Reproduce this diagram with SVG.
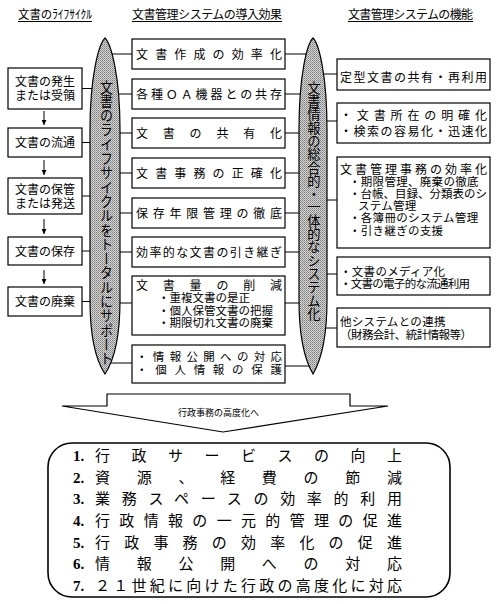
<svg xmlns="http://www.w3.org/2000/svg" width="497" height="604" viewBox="0 0 497 604">
<defs>
<pattern id="dots" width="2" height="2" patternUnits="userSpaceOnUse">
<rect width="2" height="2" fill="#d6d6d6"/>
<rect width="1" height="1" fill="#7a7a7a"/>
<rect x="1" y="1" width="1" height="1" fill="#9a9a9a"/>
</pattern>
<marker id="ah" viewBox="0 0 10 10" refX="10" refY="5" markerWidth="5" markerHeight="5" orient="auto" markerUnits="userSpaceOnUse">
<path d="M0,0 L10,5 L0,10 Z" fill="#000"/>
</marker>
</defs>
<style>
text{font-family:"Liberation Sans","Noto Sans CJK JP",sans-serif;fill:#000;}
.h{font-size:12px;}
.t{font-size:12px;}
.s{font-size:11.5px;}
.c{text-anchor:middle;}
.box{fill:#fff;stroke:#000;stroke-width:1.2;}
.ln{stroke:#000;stroke-width:1;fill:none;}
.ell{fill:url(#dots);stroke:#000;stroke-width:1.2;}
.v{writing-mode:vertical-rl;text-orientation:upright;}
.b{font-size:15px;}
.n{font-family:"Liberation Serif","Noto Sans CJK JP",serif;font-size:15px;font-weight:bold;}
</style>

<g id="headers">
<text class="h" x="18" y="18.5" textLength="74" lengthAdjust="spacingAndGlyphs">文書のﾗｲﾌｻｲｸﾙ</text>
<line class="ln" x1="18" y1="21.5" x2="92" y2="21.5"/>
<text class="h" x="132" y="18.5" textLength="150">文書管理システムの導入効果</text>
<line class="ln" x1="132" y1="21.5" x2="282" y2="21.5"/>
<text class="h" x="348" y="18.5" textLength="125">文書管理システムの機能</text>
<line class="ln" x1="348" y1="21.5" x2="473" y2="21.5"/>
</g>

<g id="connectors">
<line class="ln" x1="82" y1="88.5" x2="105" y2="88.5"/>
<line class="ln" x1="82" y1="142.5" x2="105" y2="142.5"/>
<line class="ln" x1="82" y1="196" x2="105" y2="196"/>
<line class="ln" x1="82" y1="251" x2="105" y2="251"/>
<line class="ln" x1="82" y1="301.5" x2="105" y2="301.5"/>
<line class="ln" x1="44" y1="111" x2="44" y2="125" marker-end="url(#ah)"/>
<line class="ln" x1="44" y1="160" x2="44" y2="175" marker-end="url(#ah)"/>
<line class="ln" x1="44" y1="219" x2="44" y2="234" marker-end="url(#ah)"/>
<line class="ln" x1="44" y1="270" x2="44" y2="284" marker-end="url(#ah)"/>
<line class="ln" x1="105" y1="54" x2="132" y2="54"/>
<line class="ln" x1="105" y1="94" x2="132" y2="94"/>
<line class="ln" x1="105" y1="133" x2="132" y2="133"/>
<line class="ln" x1="105" y1="173" x2="132" y2="173"/>
<line class="ln" x1="105" y1="213" x2="132" y2="213"/>
<line class="ln" x1="105" y1="252" x2="132" y2="252"/>
<line class="ln" x1="105" y1="303" x2="132" y2="303"/>
<line class="ln" x1="105" y1="363" x2="132" y2="363"/>
<line class="ln" x1="285" y1="54" x2="313" y2="54"/>
<line class="ln" x1="285" y1="94" x2="313" y2="94"/>
<line class="ln" x1="285" y1="133" x2="313" y2="133"/>
<line class="ln" x1="285" y1="173" x2="313" y2="173"/>
<line class="ln" x1="285" y1="213" x2="313" y2="213"/>
<line class="ln" x1="285" y1="252" x2="313" y2="252"/>
<line class="ln" x1="285" y1="303" x2="313" y2="303"/>
<line class="ln" x1="285" y1="366" x2="313" y2="366"/>
<line class="ln" x1="313" y1="74" x2="337" y2="74"/>
<line class="ln" x1="313" y1="121" x2="337" y2="121"/>
<line class="ln" x1="313" y1="200" x2="337" y2="200"/>
<line class="ln" x1="313" y1="274" x2="337" y2="274"/>
<line class="ln" x1="313" y1="328" x2="337" y2="328"/>
</g>

<g id="ellipse-left">
<path class="ell" d="M105,38 C111,44 120,75 120,130 L120,300 C120,340 113,362 105,374 C97,362 90,340 90,300 L90,130 C90,75 99,44 105,38 Z"/>
<text class="v" x="105" y="80" font-size="13" transform="translate(0 -8) scale(1 1.1)">文書のライフサイクルをトータルにサポート</text>
</g>
<g id="ellipse-right">
<path class="ell" d="M313,38 C319,44 327,75 327,130 L327,300 C327,340 320,362 313,374 C306,362 299,340 299,300 L299,130 C299,75 307,44 313,38 Z"/>
<text class="v" x="313" y="81" font-size="13.3">文書情報の総合的・一体的なシステム化</text>
</g>

<g id="life1"><rect class="box" x="8" y="68" width="74" height="41"/>
<text class="t c" x="45" y="86">文書の発生</text><text class="t c" x="45" y="100">または受領</text></g>
<g id="life2"><rect class="box" x="8" y="128" width="74" height="29"/>
<text class="t c" x="45" y="146.5">文書の流通</text></g>
<g id="life3"><rect class="box" x="8" y="178" width="74" height="36"/>
<text class="t c" x="45" y="194">文書の保管</text><text class="t c" x="45" y="208">または発送</text></g>
<g id="life4"><rect class="box" x="8" y="237" width="74" height="28"/>
<text class="t c" x="45" y="255.5">文書の保存</text></g>
<g id="life5"><rect class="box" x="8" y="287" width="74" height="29"/>
<text class="t c" x="45" y="306">文書の廃棄</text></g>

<g id="eff1"><rect class="box" x="132" y="39" width="153" height="30"/>
<text class="t" x="136" y="58.5" textLength="146">文書作成の効率化</text></g>
<g id="eff2"><rect class="box" x="132" y="79" width="153" height="30"/>
<text class="t" x="136" y="98.5" textLength="146">各種ＯＡ機器との共存</text></g>
<g id="eff3"><rect class="box" x="132" y="118" width="153" height="30"/>
<text class="t" x="136" y="137.5" textLength="146">文書の共有化</text></g>
<g id="eff4"><rect class="box" x="132" y="158" width="153" height="30"/>
<text class="t" x="136" y="177.5" textLength="146">文書事務の正確化</text></g>
<g id="eff5"><rect class="box" x="132" y="198" width="153" height="30"/>
<text class="t" x="136" y="217.5" textLength="146">保存年限管理の徹底</text></g>
<g id="eff6"><rect class="box" x="132" y="237" width="153" height="30"/>
<text class="t" x="136" y="256.5" textLength="146">効率的な文書の引き継ぎ</text></g>
<g id="eff7"><rect class="box" x="132" y="276" width="153" height="59"/>
<text class="t" x="136" y="289.5" textLength="146">文書量の削減</text>
<text class="s" x="158" y="302">・重複文書の是正</text>
<text class="s" x="158" y="314.5">・個人保管文書の把握</text>
<text class="s" x="158" y="327">・期限切れ文書の廃棄</text></g>
<g id="eff8"><rect class="box" x="132" y="345" width="153" height="38"/>
<text class="s" x="136" y="360.5" textLength="146">・情報公開への対応</text>
<text class="s" x="136" y="374" textLength="146">・個人情報の保護</text></g>

<g id="func1"><rect class="box" x="337" y="59" width="153" height="31"/>
<text class="t" x="340" y="81.5" textLength="147">定型文書の共有・再利用</text></g>
<g id="func2"><rect class="box" x="337" y="103" width="153" height="40"/>
<text class="t" x="340" y="119.5" textLength="147">・文書所在の明確化</text>
<text class="t" x="340" y="135.5" textLength="147">・検索の容易化・迅速化</text></g>
<g id="func3"><rect class="box" x="337" y="157" width="153" height="91"/>
<text class="t" x="340" y="173.5" textLength="147">文書管理事務の効率化</text>
<text class="s" x="349" y="185.5" letter-spacing="0.3">・期限管理、廃棄の徹底</text>
<text class="s" x="349" y="197.5" textLength="138">・台帳、目録、分類表のシ</text>
<text class="s" x="358" y="210" letter-spacing="0.3">ステム管理</text>
<text class="s" x="349" y="222" letter-spacing="0.3">・各簿冊のシステム管理</text>
<text class="s" x="349" y="235" letter-spacing="0.3">・引き継ぎの支援</text></g>
<g id="func4"><rect class="box" x="337" y="257" width="153" height="38"/>
<text class="s" x="340" y="275.5" letter-spacing="0.3">・文書のメディア化</text>
<text class="s" x="340" y="288" textLength="130">・文書の電子的な流通利用</text></g>
<g id="func5"><rect class="box" x="337" y="308" width="153" height="39"/>
<text class="s" x="340" y="325.5" letter-spacing="0.3">他システムとの連携</text>
<text class="s" x="340" y="338.5" textLength="132">（財務会計、統計情報等）</text></g>

<g id="arrow">
<polygon points="107,394 350,394 350,406 388,406 223,432 62,406 107,406" fill="#fff" stroke="#000" stroke-width="1.2"/>
<text x="178" y="416" font-size="9">行政事務の高度化へ</text>
</g>

<g id="results">
<rect x="48" y="443" width="402" height="154" rx="24" ry="24" fill="#fff" stroke="#000" stroke-width="1.6"/>
<text class="n" x="73" y="460.5">1.</text><text class="b" x="95" y="460.5" textLength="307">行政サービスの向上</text>
<text class="n" x="73" y="482.5">2.</text><text class="b" x="95" y="482.5" textLength="307">資源、経費の節減</text>
<text class="n" x="73" y="504">3.</text><text class="b" x="95" y="504" textLength="307">業務スペースの効率的利用</text>
<text class="n" x="73" y="526">4.</text><text class="b" x="95" y="526" textLength="307">行政情報の一元的管理の促進</text>
<text class="n" x="73" y="547.5">5.</text><text class="b" x="95" y="547.5" textLength="307">行政事務の効率化の促進</text>
<text class="n" x="73" y="569">6.</text><text class="b" x="95" y="569" textLength="307">情報公開への対応</text>
<text class="n" x="73" y="591">7.</text><text class="b" x="95" y="591" textLength="307">２１世紀に向けた行政の高度化に対応</text>
</g>
</svg>
